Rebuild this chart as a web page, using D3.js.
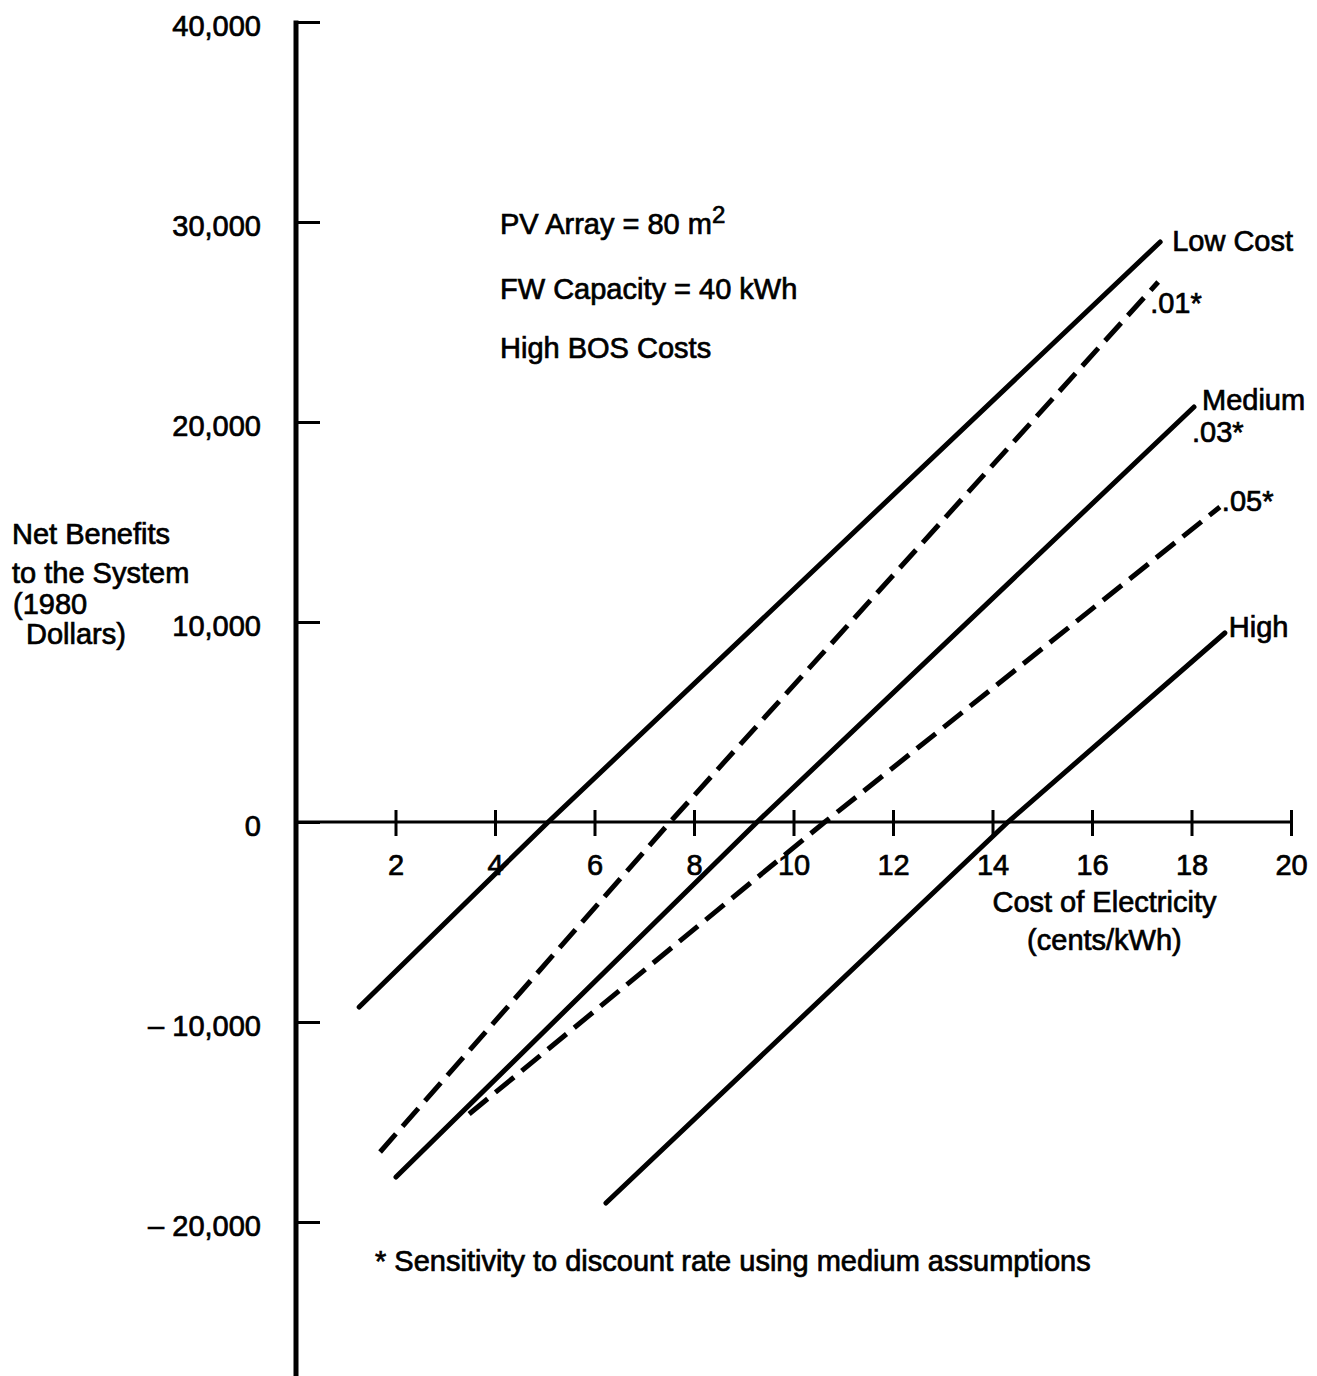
<!DOCTYPE html>
<html>
<head>
<meta charset="utf-8">
<script src="https://cdn.jsdelivr.net/npm/d3@7"></script>
<style>
  html, body { margin: 0; padding: 0; background: #fff; }
  svg { display: block; }
  text { font-family: "Liberation Sans", Arial, sans-serif; font-size: 29px; fill: #000; stroke: #000; stroke-width: 0.7px; }
</style>
</head>
<body>
<svg id="chart" width="1317" height="1376"></svg>
<script>
// Cost of electricity (cents/kWh) on x, net benefits (1980 dollars) on y.
const xTicks = [2, 4, 6, 8, 10, 12, 14, 16, 18, 20];
const yTicks = [-20000, -10000, 0, 10000, 20000, 30000, 40000];

// Each series: start point, break-even point, end point.
const lowCost   = [[1.27, -9250],  [5.07, 0],  [17.37, 29000]];
const rate01    = [[1.69, -16500], [7.52, 0],  [17.33, 27000]];
const medium    = [[2.01, -17750], [9.27, 0],  [18.05, 20750]];
const rate05    = [[3.48, -14600], [10.63, 0], [18.57, 15750]];
const highCost  = [[6.23, -19050], [14.31, 0], [18.67, 9450]];

const seriesNames  = ["Low Cost", ".01*", "Medium", ".05*", "High"];
const seriesData   = [lowCost, rate01, medium, rate05, highCost];
const seriesDashed = [false, true, false, true, false];

const notes = ["FW Capacity = 40 kWh", "High BOS Costs"];
const yTitle = ["Net Benefits", "to the System", "(1980", "Dollars)"];
const xTitle = ["Cost of Electricity", "(cents/kWh)"];
const footnote = "* Sensitivity to discount rate using medium assumptions";

const svg = d3.select("#chart");
const H = 1376;

const x = d3.scaleLinear().domain([0, 20]).range([296, 1291]);
const y = d3.scaleLinear().domain([-20000, 40000]).range([1222, 22]);

const fmt = d3.format(",");
const yFmt = d => d < 0 ? "\u2013 " + fmt(-d) : fmt(d);

// Y axis: ticks point right, labels on the left
const gy = svg.append("g").attr("transform", `translate(${x(0)},0)`)
  .call(d3.axisLeft(y).tickValues(yTicks).tickFormat(yFmt)
        .tickSizeInner(-24).tickSizeOuter(0).tickPadding(35));
gy.select(".domain").remove();
gy.selectAll(".tick line").attr("stroke", "#000").attr("stroke-width", 3);
gy.selectAll(".tick text").attr("dy", "0.45em").attr("font-size", 29)
  .attr("font-family", null).style("white-space", "pre");
gy.append("line")
  .attr("x1", 0).attr("x2", 0)
  .attr("y1", y(40000) - 1.5).attr("y2", H)
  .attr("stroke", "#000").attr("stroke-width", 5);

// X axis along zero, ticks crossing the line
const gx = svg.append("g").attr("transform", `translate(0,${y(0)})`)
  .call(d3.axisBottom(x).tickValues(xTicks).tickFormat(d3.format("d")).tickSizeOuter(0));
gx.select(".domain").remove();
gx.append("line")
  .attr("x1", x(0)).attr("x2", x(20))
  .attr("y1", 0).attr("y2", 0)
  .attr("stroke", "#000").attr("stroke-width", 3);
gx.selectAll(".tick line").attr("y1", -12).attr("y2", 14)
  .attr("stroke", "#000").attr("stroke-width", 3);
gx.selectAll(".tick text").attr("y", 53).attr("dy", 0)
  .attr("font-size", 29).attr("font-family", null);

// Axis titles
svg.append("g").selectAll("text").data(xTitle).join("text")
  .attr("x", x(16.25)).attr("y", (d, i) => y(0) + 90 + i * 38)
  .attr("text-anchor", "middle").text(d => d);

const yt = svg.append("g");
const yTitlePos = [[12, 544], [12, 583], [13, 614], [26, 644]];
yt.selectAll("text").data(yTitle).join("text")
  .attr("x", (d, i) => yTitlePos[i][0]).attr("y", (d, i) => yTitlePos[i][1])
  .text(d => d);

// Annotation block
const pv = svg.append("text").attr("x", 500).attr("y", 234);
pv.append("tspan").text("PV Array = 80 m");
pv.append("tspan").attr("font-size", 24).attr("dy", -11).text("2");
svg.append("g").selectAll("text").data(notes).join("text")
  .attr("x", 500).attr("y", (d, i) => 299 + i * 59).text(d => d);

// Series lines
const line = d3.line().x(d => x(d[0])).y(d => y(d[1]));
svg.append("g").selectAll("path").data(seriesData).join("path")
  .attr("d", line)
  .attr("fill", "none").attr("stroke", "#000").attr("stroke-width", 5)
  .attr("stroke-linecap", (d, i) => seriesDashed[i] ? "butt" : "round")
  .attr("stroke-dasharray", (d, i) => seriesDashed[i] ? "24,10" : null);

// Series labels at the line ends
const labelOffset = [[12, 9], [-8, 31], [8, 3], [2, 4], [4, 4]];
svg.append("g").selectAll("text").data(seriesNames).join("text")
  .attr("x", (d, i) => x(seriesData[i][2][0]) + labelOffset[i][0])
  .attr("y", (d, i) => y(seriesData[i][2][1]) + labelOffset[i][1])
  .text(d => d);
// discount-rate note under the Medium label
svg.append("text")
  .attr("x", x(medium[2][0]) - 2).attr("y", y(medium[2][1]) + 35)
  .text(".03*");

// Footnote
svg.append("text").attr("x", 375).attr("y", 1271).text(footnote);
</script>
</body>
</html>
